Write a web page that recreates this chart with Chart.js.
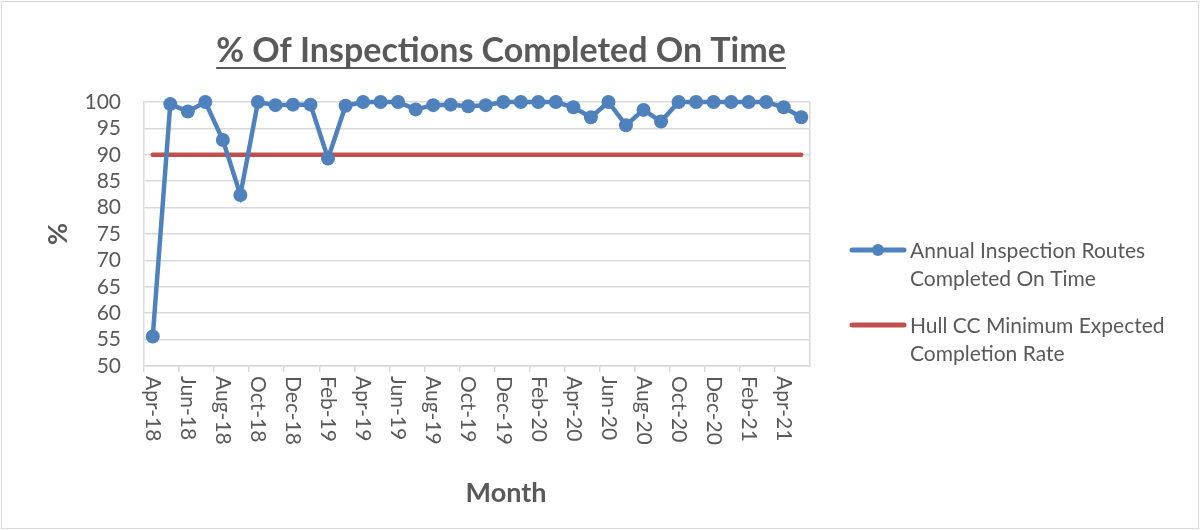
<!DOCTYPE html>
<html>
<head>
<meta charset="utf-8">
<script src="https://cdn.jsdelivr.net/npm/chart.js@4.4.1/dist/chart.umd.min.js"></script>
<style>
  html, body { margin: 0; padding: 0; background: #fff; }
  #wrap { width: 1201px; height: 531px; }
</style>
</head>
<body>
<div id="wrap"><canvas id="inspChart" width="1201" height="531"></canvas></div>
<script>
// Monthly data
const months = ["Apr-18", "May-18", "Jun-18", "Jul-18", "Aug-18", "Sep-18", "Oct-18", "Nov-18", "Dec-18",
  "Jan-19", "Feb-19", "Mar-19", "Apr-19", "May-19", "Jun-19", "Jul-19", "Aug-19", "Sep-19", "Oct-19", "Nov-19", "Dec-19",
  "Jan-20", "Feb-20", "Mar-20", "Apr-20", "May-20", "Jun-20", "Jul-20", "Aug-20", "Sep-20", "Oct-20", "Nov-20", "Dec-20",
  "Jan-21", "Feb-21", "Mar-21", "Apr-21", "May-21"];

const completedOnTime = [55.6, 99.6, 98.2, 100, 92.8, 82.4, 100, 99.4, 99.5, 99.5,
  89.3, 99.3, 100, 100, 100, 98.6, 99.4, 99.5, 99.2, 99.4,
  100, 100, 100, 100, 99.0, 97.1, 100, 95.6, 98.5, 96.3,
  100, 100, 100, 100, 100, 100, 99.0, 97.1];

const minExpected = [90, 90, 90, 90, 90, 90, 90, 90, 90, 90,
  90, 90, 90, 90, 90, 90, 90, 90, 90, 90,
  90, 90, 90, 90, 90, 90, 90, 90, 90, 90,
  90, 90, 90, 90, 90, 90, 90, 90];

const yTicks = [50, 55, 60, 65, 70, 75, 80, 85, 90, 95, 100];

const seriesNames = [
  ["Annual Inspection Routes", "Completed On Time"],
  ["Hull CC Minimum Expected", "Completion Rate"]
];

const chartTitle = "% Of Inspections Completed On Time";
const xTitle = "Month";
const yTitle = "%";

const textColor = "#595959";
const gridColor = "#d9d9d9";
const fontFamily = "Lato, 'Open Sans', sans-serif";

// draws frame, underlined title, rotated month labels, x title and legend
const extrasPlugin = {
  id: "extras",
  beforeDraw(chart) {
    const ctx = chart.ctx;
    ctx.save();
    ctx.fillStyle = "#fff";
    ctx.fillRect(0, 0, chart.width, chart.height);
    ctx.strokeStyle = gridColor;
    ctx.lineWidth = 1;
    ctx.strokeRect(1.5, 1.5, chart.width - 4, chart.height - 4);
    ctx.restore();
  },
  afterDraw(chart) {
    const ctx = chart.ctx;
    const xs = chart.scales.x;
    ctx.save();

    // title
    ctx.fillStyle = textColor;
    ctx.font = "bold 34px " + fontFamily;
    ctx.textAlign = "center";
    ctx.textBaseline = "alphabetic";
    const tx = 501, ty = 62;
    ctx.fillText(chartTitle, tx, ty);
    const tw = ctx.measureText(chartTitle).width;
    ctx.strokeStyle = textColor;
    ctx.lineWidth = 2;
    ctx.beginPath();
    ctx.moveTo(tx - tw / 2, ty + 6);
    ctx.lineTo(tx + tw / 2, ty + 6);
    ctx.stroke();

    // month labels, every second one, reading top to bottom
    ctx.font = "21px " + fontFamily;
    ctx.textAlign = "left";
    ctx.textBaseline = "middle";
    months.forEach((m, i) => {
      if (i % 2 !== 0) return;
      const x = xs.getPixelForValue(i);
      ctx.save();
      ctx.translate(x, xs.top + 10);
      ctx.rotate(Math.PI / 2);
      ctx.fillText(m, 0, 0);
      ctx.restore();
    });

    // x axis title
    ctx.font = "bold 27px " + fontFamily;
    ctx.textAlign = "center";
    ctx.fillText(xTitle, 506, 493);

    // legend
    const rows = [250, 325];
    chart.data.datasets.forEach((ds, k) => {
      const y = rows[k];
      ctx.strokeStyle = ds.borderColor;
      ctx.lineWidth = 5;
      ctx.lineCap = "round";
      ctx.beginPath();
      ctx.moveTo(852, y);
      ctx.lineTo(904, y);
      ctx.stroke();
      if (ds.pointRadius > 0) {
        ctx.fillStyle = ds.pointBackgroundColor;
        ctx.beginPath();
        ctx.arc(878, y, 6, 0, Math.PI * 2);
        ctx.fill();
      }
      ctx.fillStyle = textColor;
      ctx.font = "21px " + fontFamily;
      ctx.textAlign = "left";
      ctx.textBaseline = "middle";
      seriesNames[k].forEach((line, j) => ctx.fillText(line, 910, y + 1 + j * 28));
    });
    ctx.restore();
  }
};

const ctx = document.getElementById("inspChart").getContext("2d");
const inspChart = new Chart(ctx, {
  type: "line",
  data: {
    labels: months,
    datasets: [
      {
        label: seriesNames[0].join(" "),
        data: completedOnTime,
        borderColor: "#4f81bd",
        backgroundColor: "#4f81bd",
        pointBackgroundColor: "#4f81bd",
        pointBorderColor: "#4f81bd",
        borderWidth: 4.5,
        pointRadius: 7,
        pointBorderWidth: 0,
        tension: 0,
        clip: false
      },
      {
        label: seriesNames[1].join(" "),
        data: minExpected,
        borderColor: "#c0504d",
        backgroundColor: "#c0504d",
        borderWidth: 4.5,
        borderCapStyle: "round",
        pointRadius: 0,
        tension: 0,
        clip: false
      }
    ]
  },
  options: {
    responsive: false,
    animation: false,
    events: [],
    layout: { padding: { left: 0, right: 391, top: 102, bottom: 0 } },
    plugins: {
      legend: { display: false },
      title: { display: false },
      tooltip: { enabled: false }
    },
    scales: {
      x: {
        offset: true,
        grid: {
          offset: true,
          drawOnChartArea: false,
          drawTicks: true,
          tickLength: 6,
          color: (c) => (c.index % 2 === 0 ? gridColor : "rgba(0,0,0,0)"),
          lineWidth: 1.5
        },
        border: { display: true, color: gridColor, width: 1.5 },
        ticks: { display: false, autoSkip: false },
        afterFit: (s) => { s.height = 165; }
      },
      y: {
        min: 50,
        max: 100,
        afterBuildTicks: (s) => { s.ticks = yTicks.map((v) => ({ value: v })); },
        grid: { color: gridColor, lineWidth: 1.5, drawTicks: false },
        border: { display: true, color: gridColor, width: 1.5 },
        ticks: {
          color: textColor,
          padding: 23,
          autoSkip: false,
          font: { family: fontFamily, size: 21 }
        },
        title: {
          display: true,
          text: yTitle,
          color: textColor,
          font: { family: fontFamily, size: 27, weight: "bold" },
          padding: { top: 42, bottom: 0 }
        },
        afterFit: (s) => { s.width = 144; }
      },
      y2: {
        position: "right",
        min: 50,
        max: 100,
        grid: { drawOnChartArea: false, drawTicks: false },
        border: { display: true, color: gridColor, width: 1.5 },
        ticks: { display: false },
        afterFit: (s) => { s.width = 0; }
      }
    }
  },
  plugins: [extrasPlugin]
});
</script>
</body>
</html>
